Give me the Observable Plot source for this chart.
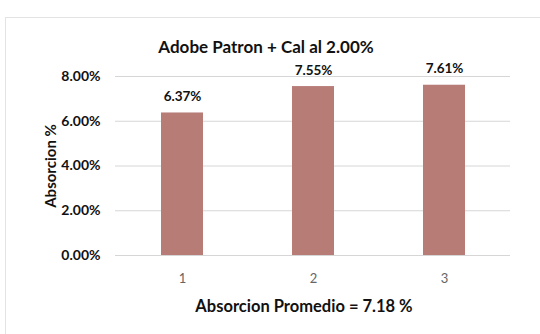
<!DOCTYPE html>
<html>
<head>
<meta charset="utf-8">
<script src="https://cdn.jsdelivr.net/npm/d3@7"></script>
<script src="https://cdn.jsdelivr.net/npm/@observablehq/plot@0.6"></script>
<style>
  html, body { margin: 0; padding: 0; background: #ffffff; }
  #wrap { position: relative; width: 540px; height: 334px; overflow: hidden; }
  #frame { position: absolute; left: 5px; top: 17px; width: 540px; height: 320px;
           border: 1px solid #e3e3e3; box-sizing: border-box; }
  #chart { position: absolute; left: 0; top: 0; }
</style>
</head>
<body>
<div id="wrap"><div id="frame"></div><div id="chart"></div></div>
<script>
// Sample number and measured water absorption (fraction)
const muestras = ["1", "2", "3"];
const absorcion = [0.0637, 0.0755, 0.0761];
const yTicks = [0, 0.02, 0.04, 0.06, 0.08];
const titulo = "Adobe Patron + Cal al 2.00%";
const etiquetaX = "Absorcion Promedio = 7.18 %";
const etiquetaY = "Absorcion %";

const datos = muestras.map((m, i) => ({muestra: m, valor: absorcion[i]}));
const fmt = d3.format(".2%");
const font = "Lato, 'Open Sans', sans-serif";

const chart = Plot.plot({
  width: 540,
  height: 334,
  marginTop: 76,
  marginBottom: 79,
  marginLeft: 115,
  marginRight: 30,
  style: {fontFamily: font, background: "transparent"},
  x: {domain: muestras, paddingInner: 0.68, paddingOuter: 0.34},
  y: {domain: [0, 0.08]},
  marks: [
    Plot.gridY(yTicks, {stroke: "#d6d6d6", strokeOpacity: 1, strokeWidth: 1}),
    Plot.barY(datos, {x: "muestra", y: "valor", fill: "#b87c77"}),
    Plot.text(datos, {
      x: "muestra", y: "valor", text: d => fmt(d.valor),
      lineAnchor: "bottom", dy: -12, fontSize: 13.5, fontWeight: "bold", fill: "#111"
    }),
    Plot.axisY({
      ticks: yTicks, tickFormat: fmt, tickSize: 0, tickPadding: 15,
      fontSize: 14, fontWeight: "bold", fill: "#111",
      label: etiquetaY, labelAnchor: "center", labelOffset: 70, labelArrow: "none"
    }),
    Plot.axisX({
      tickSize: 0, tickPadding: 18, fontSize: 13, fill: "#666",
      label: etiquetaX, labelAnchor: "center", labelOffset: 56, labelArrow: "none"
    }),
    Plot.text([titulo], {
      frameAnchor: "top", dx: -47, dy: -36, text: d => d,
      fontSize: 17, fontWeight: "bold", fill: "#111"
    })
  ]
});

// Bold, dark axis titles
chart.querySelectorAll("g[aria-label='y-axis label'] text")
  .forEach(t => { t.setAttribute("font-weight", "bold"); t.setAttribute("fill", "#111"); t.setAttribute("font-size", "15"); });
chart.querySelectorAll("g[aria-label='x-axis label'] text")
  .forEach(t => { t.setAttribute("font-weight", "bold"); t.setAttribute("fill", "#111"); t.setAttribute("font-size", "16.5"); t.setAttribute("dx", "-9"); });

document.getElementById("chart").appendChild(chart);
</script>
</body>
</html>
